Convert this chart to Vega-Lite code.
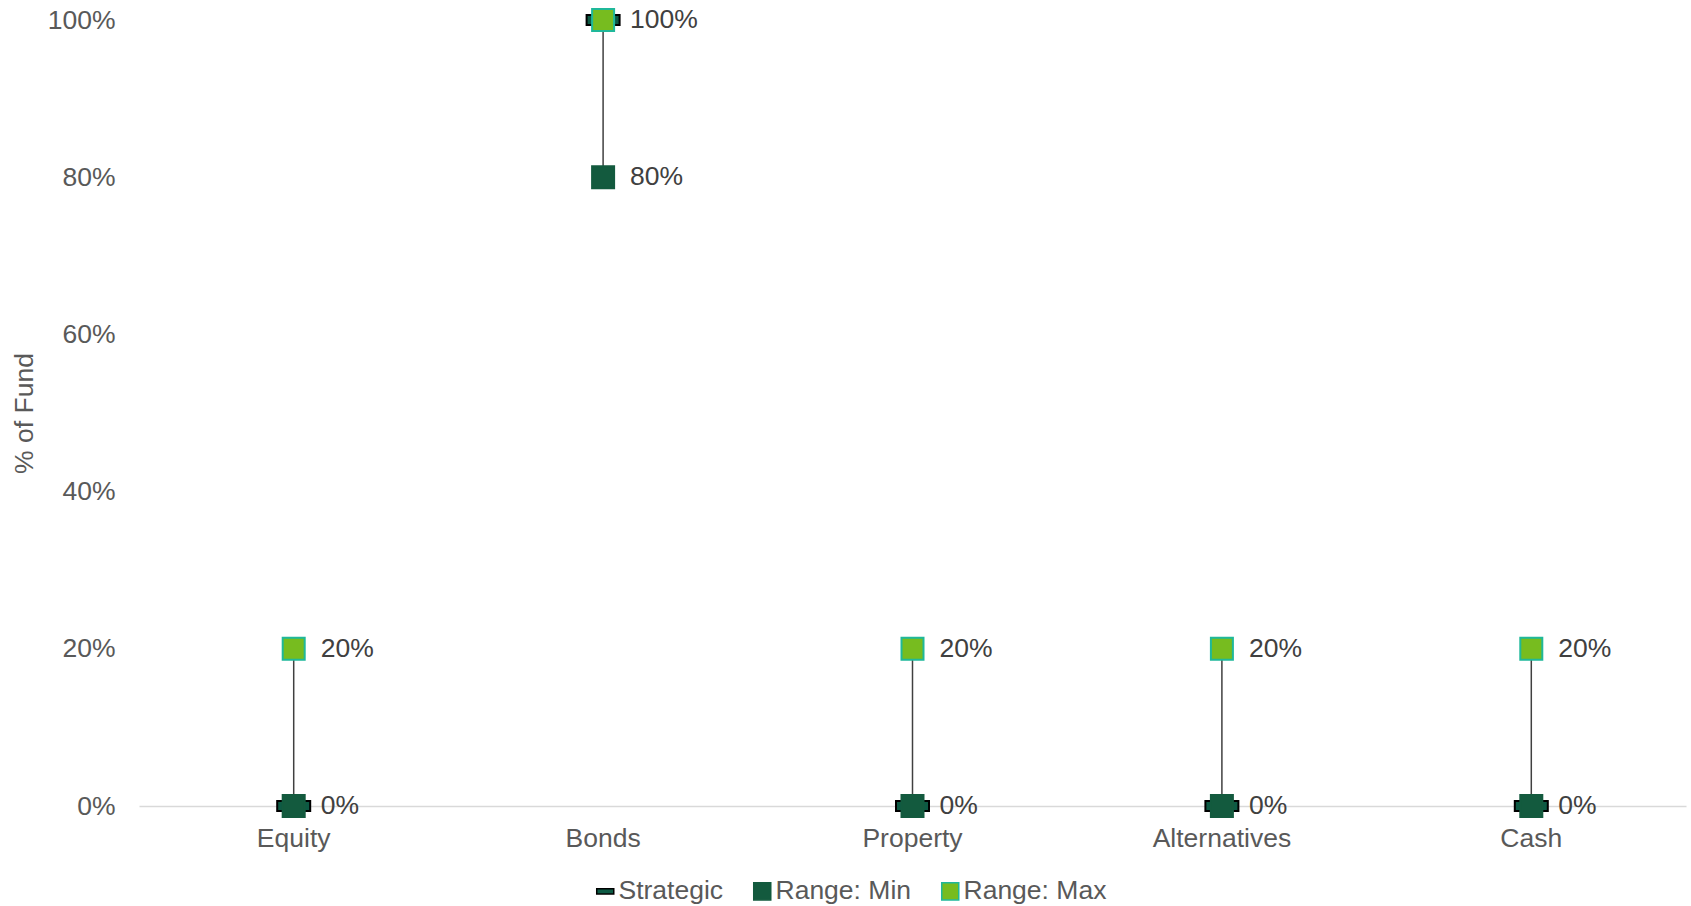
{
  "$schema": "https://vega.github.io/schema/vega-lite/v6.json",
  "width": 1547,
  "height": 786,
  "autosize": {"type": "none"},
  "padding": {"left": 139, "top": 20, "right": 5, "bottom": 100},
  "background": "white",
  "config": {
    "view": {"stroke": null},
    "font": "Liberation Sans",
    "axisX": {"domainColor": "#d9d9d9", "domainWidth": 1.5, "ticks": false, "grid": false, "labelAngle": 0, "labelFontSize": 26.5, "labelColor": "#595959", "labelPadding": 19, "title": null},
    "axisY": {"grid": false, "domain": false, "ticks": false, "labelPadding": 24, "labelFontSize": 26.5, "labelColor": "#595959", "titleFontSize": 26.5, "titleFontWeight": "normal", "titleColor": "#595959", "titleX": -115, "titleY": 393, "titleAngle": -90, "titleAlign": "center", "titleBaseline": "middle"},
    "legend": {"orient": "none", "legendX": 453, "legendY": 858, "direction": "horizontal", "symbolSize": 290, "labelFontSize": 26.5, "labelColor": "#595959", "columnPadding": 25, "labelOffset": 0, "symbolStrokeWidth": 1.5, "title": null}
  },
  "data": {
    "values": [
      {"asset": "Equity", "Strategic": 0, "Min": 0, "Max": 0.2},
      {"asset": "Bonds", "Strategic": 1, "Min": 0.8, "Max": 1},
      {"asset": "Property", "Strategic": 0, "Min": 0, "Max": 0.2},
      {"asset": "Alternatives", "Strategic": 0, "Min": 0, "Max": 0.2},
      {"asset": "Cash", "Strategic": 0, "Min": 0, "Max": 0.2}
    ]
  },
  "encoding": {
    "x": {"field": "asset", "type": "nominal", "sort": null, "scale": {"paddingInner": 0, "paddingOuter": 0}, "title": null}
  },
  "layer": [
    {
      "mark": {"type": "rule", "color": "#404040", "strokeWidth": 1.5},
      "encoding": {
        "y": {"field": "Min", "type": "quantitative", "scale": {"domain": [0, 1], "nice": false}, "title": "% of Fund", "axis": {"format": ".0%", "values": [0, 0.2, 0.4, 0.6, 0.8, 1]}},
        "y2": {"field": "Max"}
      }
    },
    {
      "transform": [{"fold": ["Strategic"], "as": ["series", "value"]}],
      "mark": {"type": "point", "filled": true, "opacity": 1, "strokeWidth": 2, "size": 1089},
      "encoding": {
        "y": {"field": "value", "type": "quantitative", "scale": {"domain": [0, 1], "nice": false}, "title": "% of Fund", "axis": {"format": ".0%", "values": [0, 0.2, 0.4, 0.6, 0.8, 1]}},
        "color": {"field": "series", "type": "nominal", "scale": {"domain": ["Strategic", "Min", "Max"], "range": ["#0d5a44", "#135a3e", "#77bc1f"]}, "legend": {"labelExpr": "datum.label == 'Min' ? 'Range: Min' : datum.label == 'Max' ? 'Range: Max' : datum.label"}},
        "shape": {"field": "series", "type": "nominal", "scale": {"domain": ["Strategic", "Min", "Max"], "range": ["M-1,-0.3L1,-0.3L1,0.3L-1,0.3Z", "square", "square"]}, "legend": {"labelExpr": "datum.label == 'Min' ? 'Range: Min' : datum.label == 'Max' ? 'Range: Max' : datum.label"}},
        "stroke": {"field": "series", "type": "nominal", "scale": {"domain": ["Strategic", "Min", "Max"], "range": ["#000000", "#135a3e", "#1fb89a"]}, "legend": {"labelExpr": "datum.label == 'Min' ? 'Range: Min' : datum.label == 'Max' ? 'Range: Max' : datum.label"}}
      }
    },
    {
      "transform": [{"fold": ["Min", "Max"], "as": ["series", "value"]}],
      "mark": {"type": "point", "filled": true, "opacity": 1, "strokeWidth": 2, "size": 484},
      "encoding": {
        "y": {"field": "value", "type": "quantitative", "scale": {"domain": [0, 1], "nice": false}, "title": "% of Fund", "axis": {"format": ".0%", "values": [0, 0.2, 0.4, 0.6, 0.8, 1]}},
        "color": {"field": "series", "type": "nominal", "scale": {"domain": ["Strategic", "Min", "Max"], "range": ["#0d5a44", "#135a3e", "#77bc1f"]}, "legend": {"labelExpr": "datum.label == 'Min' ? 'Range: Min' : datum.label == 'Max' ? 'Range: Max' : datum.label"}},
        "shape": {"field": "series", "type": "nominal", "scale": {"domain": ["Strategic", "Min", "Max"], "range": ["M-1,-0.3L1,-0.3L1,0.3L-1,0.3Z", "square", "square"]}, "legend": {"labelExpr": "datum.label == 'Min' ? 'Range: Min' : datum.label == 'Max' ? 'Range: Max' : datum.label"}},
        "stroke": {"field": "series", "type": "nominal", "scale": {"domain": ["Strategic", "Min", "Max"], "range": ["#000000", "#135a3e", "#1fb89a"]}, "legend": {"labelExpr": "datum.label == 'Min' ? 'Range: Min' : datum.label == 'Max' ? 'Range: Max' : datum.label"}}
      }
    },
    {
      "transform": [{"fold": ["Min", "Max"], "as": ["series", "value"]}],
      "mark": {"type": "text", "align": "left", "baseline": "middle", "dx": 27, "fontSize": 26.5, "color": "#404040"},
      "encoding": {
        "y": {"field": "value", "type": "quantitative", "scale": {"domain": [0, 1], "nice": false}, "title": "% of Fund", "axis": {"format": ".0%", "values": [0, 0.2, 0.4, 0.6, 0.8, 1]}},
        "text": {"field": "value", "type": "quantitative", "format": ".0%"}
      }
    }
  ]
}
